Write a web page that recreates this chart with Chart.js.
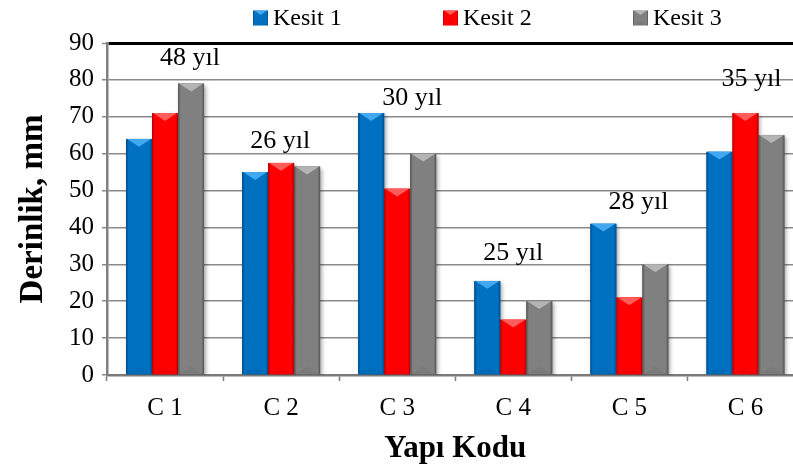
<!DOCTYPE html>
<html>
<head>
<meta charset="utf-8">
<script src="https://cdn.jsdelivr.net/npm/chart.js@4.4.0/dist/chart.umd.min.js"></script>
<style>
  html, body { margin: 0; padding: 0; background: #fff; overflow: hidden; }
  #chart { display: block; }
</style>
</head>
<body>
<canvas id="chart" width="820" height="470"></canvas>
<script>
const categories = ["C 1", "C 2", "C 3", "C 4", "C 5", "C 6"];
const seriesNames = ["Kesit 1", "Kesit 2", "Kesit 3"];
const kesit1 = [64, 55, 71, 25.5, 41, 60.5];
const kesit2 = [71, 57.5, 50.5, 15, 21, 71];
const kesit3 = [79, 56.5, 60, 20, 30, 65];
const ageLabels = ["48 yıl", "26 yıl", "30 yıl", "25 yıl", "28 yıl", "35 yıl"];
const yMax = 90;
const yStep = 10;

const SERIF = '"Liberation Serif", "Times New Roman", serif';

// where each age text sits: [dx, dy] in px from category centre / top of the tallest bar
const agePlacement = [[25, -25], [-1, -22], [15, -15], [0, -28], [9, -22], [6, -34]];

const palette = [
  { base: "#0070c0", light: "#42a9f0", dark: "#004a86" },
  { base: "#ff0000", light: "#ff5c5c", dark: "#b00000" },
  { base: "#808080", light: "#b4b4b4", dark: "#525252" },
];

// bevelled fill: darker sides, light chevron on top, faint darker one at the bottom
function paintBevel(ctx, l, top, w, h, col) {
  const r = l + w, cx = l + w / 2;
  const g = ctx.createLinearGradient(l, 0, r, 0);
  g.addColorStop(0, col.dark);
  g.addColorStop(0.1, col.base);
  g.addColorStop(0.9, col.base);
  g.addColorStop(1, col.dark);
  ctx.fillStyle = g;
  ctx.fillRect(l, top, w, h);
  const tip = Math.min(w * 0.3, h / 2);
  ctx.fillStyle = col.light;
  ctx.beginPath();
  ctx.moveTo(l + 1, top);
  ctx.lineTo(r - 1, top);
  ctx.lineTo(cx, top + tip);
  ctx.closePath();
  ctx.fill();
  ctx.globalAlpha = 0.12;
  ctx.fillStyle = col.dark;
  ctx.beginPath();
  ctx.moveTo(l + 1, top + h);
  ctx.lineTo(r - 1, top + h);
  ctx.lineTo(cx, top + h - tip);
  ctx.closePath();
  ctx.fill();
  ctx.globalAlpha = 1;
}

const bevelBars = {
  id: "bevelBars",
  beforeDatasetsDraw(chart) {
    const ctx = chart.ctx;
    ctx.save();
    ctx.shadowColor = "rgba(0,0,0,0.35)";
    ctx.shadowBlur = 4;
    ctx.shadowOffsetX = 2;
    ctx.shadowOffsetY = 2;
  },
  afterDatasetsDraw(chart) {
    const ctx = chart.ctx;
    ctx.restore();
    chart.data.datasets.forEach((ds, di) => {
      chart.getDatasetMeta(di).data.forEach((bar) => {
        const p = bar.getProps(["x", "y", "base", "width"], true);
        ctx.save();
        paintBevel(ctx, p.x - p.width / 2, p.y, p.width, p.base - p.y, palette[di]);
        ctx.restore();
      });
    });

    // age of each structure above its group
    const xs = chart.scales.x;
    ctx.save();
    ctx.font = "26px " + SERIF;
    ctx.fillStyle = "#000";
    ctx.textAlign = "center";
    ctx.textBaseline = "middle";
    ageLabels.forEach((txt, i) => {
      let top = Infinity;
      chart.data.datasets.forEach((ds, di) => {
        top = Math.min(top, chart.getDatasetMeta(di).data[i].y);
      });
      const [dx, dy] = agePlacement[i];
      ctx.fillText(txt, xs.getPixelForValue(i) + dx, top + dy);
    });
    ctx.restore();
  },
};

// legend row across the top
const topLegend = {
  id: "topLegend",
  afterDraw(chart) {
    const ctx = chart.ctx;
    const xs = [253, 443, 633];
    const cy = 18, box = 15;
    ctx.save();
    ctx.font = "24px " + SERIF;
    ctx.fillStyle = "#000";
    ctx.textBaseline = "middle";
    chart.data.datasets.forEach((ds, di) => {
      const x = xs[di];
      ctx.save();
      paintBevel(ctx, x, cy - box / 2, box, box, palette[di]);
      ctx.restore();
      ctx.fillStyle = "#000";
      ctx.fillText(ds.label, x + box + 5, cy + 1);
    });
    ctx.restore();
  },
};

const series = [kesit1, kesit2, kesit3];

new Chart(document.getElementById("chart"), {
  type: "bar",
  data: {
    labels: categories,
    datasets: series.map((vals, i) => ({
      label: seriesNames[i],
      data: vals,
      backgroundColor: palette[i].base,
      borderWidth: 0,
      categoryPercentage: 0.672,
      barPercentage: 1,
    })),
  },
  options: {
    responsive: false,
    animation: false,
    layout: { padding: { top: 43, right: 16.5, bottom: 0, left: 0 } },
    plugins: {
      legend: { display: false },
      tooltip: { enabled: false },
    },
    scales: {
      x: {
        afterFit: (s) => { s.height = 95; },
        border: { display: true, color: "#7a7a7a", width: 2.5 },
        grid: {
          offset: true,
          drawOnChartArea: false,
          drawTicks: true,
          tickLength: 6,
          tickColor: "#7a7a7a",
          tickWidth: 1.5,
        },
        ticks: {
          color: "#000",
          padding: 12,
          font: { family: SERIF, size: 25 },
        },
        title: {
          display: true,
          text: "Yapı Kodu",
          color: "#000",
          padding: { top: 0, bottom: 2 },
          font: { family: SERIF, size: 31, weight: "bold" },
        },
      },
      y: {
        min: 0,
        max: yMax,
        afterFit: (s) => { s.width = 107; },
        border: { display: true, color: "#808080", width: 2.5 },
        grid: {
          color: (c) => (c.tick && c.tick.value === yMax ? "#000" : "#8a8a8a"),
          lineWidth: (c) => (c.tick && c.tick.value === yMax ? 3 : 1.5),
          tickLength: 5,
          tickColor: "#8a8a8a",
          tickWidth: 1.5,
        },
        ticks: {
          stepSize: yStep,
          color: "#000",
          padding: 8,
          font: { family: SERIF, size: 25 },
        },
        title: {
          display: true,
          text: "Derinlik, mm",
          color: "#000",
          padding: { top: 14, bottom: 0 },
          font: { family: SERIF, size: 33, weight: "bold" },
        },
      },
    },
  },
  plugins: [bevelBars, topLegend],
});
</script>
</body>
</html>
